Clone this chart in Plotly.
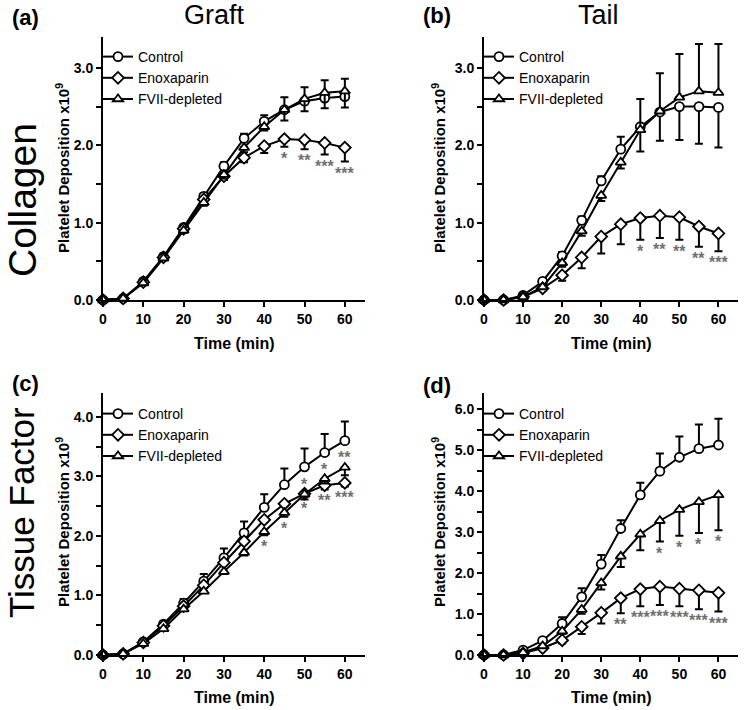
import plotly.graph_objects as go

W, H = 749, 710
FONT = "Liberation Sans, Arial, sans-serif"

# ---------------- data ----------------
TIME = [0, 5, 10, 15, 20, 25, 30, 35, 40, 45, 50, 55, 60]
SERIES = ["Control", "Enoxaparin", "FVII-depleted"]
X_TICKS = [0, 10, 20, 30, 40, 50, 60]

# (a) Graft / Collagen
A_CTRL = [0, 0.02, 0.24, 0.56, 0.94, 1.34, 1.73, 2.09, 2.31, 2.46, 2.57, 2.61, 2.63]
A_CTRL_UP = [0, 0, 0.02, 0.03, 0.03, 0.04, 0.05, 0.06, 0.08, 0.16, 0.18, 0.23, 0.23]
A_CTRL_DN = [0] * 13
A_ENOX = [0, 0.02, 0.23, 0.55, 0.92, 1.30, 1.60, 1.84, 1.99, 2.08, 2.07, 2.03, 1.97]
A_ENOX_UP = [0] * 13
A_ENOX_DN = [0, 0, 0.01, 0.02, 0.03, 0.04, 0.05, 0.06, 0.09, 0.10, 0.12, 0.15, 0.18]
A_FVII = [0, 0.02, 0.22, 0.54, 0.90, 1.26, 1.62, 1.97, 2.24, 2.46, 2.60, 2.68, 2.70]
A_FVII_UP = [0] * 13
A_FVII_DN = [0, 0, 0.01, 0.02, 0.03, 0.04, 0.05, 0.06, 0.05, 0.14, 0.16, 0.20, 0.21]
A_ENOX_SIG = ["", "", "", "", "", "", "", "", "", "*", "**", "***", "***"]

# (b) Tail / Collagen
B_CTRL = [0, 0, 0.06, 0.24, 0.57, 1.03, 1.54, 1.95, 2.24, 2.43, 2.50, 2.50, 2.49]
B_CTRL_UP = [0, 0, 0.02, 0.03, 0.05, 0.05, 0.06, 0.16, 0, 0, 0, 0, 0]
B_CTRL_DN = [0, 0, 0, 0, 0, 0, 0, 0, 0.32, 0.37, 0.43, 0.48, 0.52]
B_ENOX = [0, 0, 0.04, 0.15, 0.32, 0.55, 0.82, 0.98, 1.06, 1.09, 1.07, 0.95, 0.86]
B_ENOX_UP = [0] * 13
B_ENOX_DN = [0, 0, 0.01, 0.03, 0.07, 0.14, 0.22, 0.26, 0.28, 0.29, 0.29, 0.26, 0.23]
B_FVII = [0, 0, 0.04, 0.17, 0.48, 0.89, 1.35, 1.78, 2.20, 2.44, 2.62, 2.70, 2.68]
B_FVII_UP = [0, 0, 0, 0, 0, 0, 0, 0, 0.40, 0.49, 0.56, 0.61, 0.63]
B_FVII_DN = [0, 0, 0.02, 0.03, 0.05, 0.06, 0.07, 0.08, 0, 0, 0, 0, 0]
B_ENOX_SIG = ["", "", "", "", "", "", "", "", "*", "**", "**", "**", "***"]

# (c) Graft / Tissue Factor
C_CTRL = [0, 0.02, 0.22, 0.52, 0.87, 1.24, 1.63, 2.05, 2.48, 2.86, 3.16, 3.40, 3.60]
C_CTRL_UP = [0, 0, 0.02, 0.04, 0.07, 0.12, 0.16, 0.19, 0.22, 0.27, 0.31, 0.31, 0.32]
C_CTRL_DN = [0] * 13
C_ENOX = [0, 0.02, 0.21, 0.49, 0.82, 1.17, 1.55, 1.91, 2.27, 2.54, 2.71, 2.85, 2.89]
C_ENOX_UP = [0] * 13
C_ENOX_DN = [0, 0, 0.01, 0.02, 0.02, 0.03, 0.03, 0.04, 0.04, 0.04, 0.05, 0.07, 0.06]
C_FVII = [0, 0.02, 0.19, 0.44, 0.77, 1.07, 1.40, 1.72, 2.07, 2.39, 2.70, 2.96, 3.15]
C_FVII_UP = [0] * 13
C_FVII_DN = [0, 0, 0.01, 0.02, 0.03, 0.03, 0.04, 0.05, 0.06, 0.07, 0.09, 0.08, 0.13]
C_FVII_SIG_BELOW = ["", "", "", "", "", "", "", "", "*", "*", "", "", ""]
C_FVII_SIG_ABOVE = ["", "", "", "", "", "", "", "", "", "", "*", "*", "**"]
C_ENOX_SIG = ["", "", "", "", "", "", "", "", "", "", "*", "**", "***"]

# (d) Tail / Tissue Factor
D_CTRL = [0, 0, 0.12, 0.35, 0.77, 1.42, 2.22, 3.09, 3.91, 4.49, 4.83, 5.04, 5.13]
D_CTRL_UP = [0, 0, 0.03, 0.06, 0.15, 0.21, 0.22, 0.20, 0.30, 0.43, 0.51, 0.59, 0.64]
D_CTRL_DN = [0] * 13
D_ENOX = [0, 0, 0.04, 0.17, 0.36, 0.69, 1.03, 1.39, 1.61, 1.67, 1.62, 1.58, 1.52]
D_ENOX_UP = [0] * 13
D_ENOX_DN = [0, 0, 0.01, 0.04, 0.08, 0.18, 0.26, 0.37, 0.42, 0.45, 0.43, 0.46, 0.46]
D_FVII = [0, 0, 0.06, 0.22, 0.58, 1.11, 1.76, 2.41, 2.95, 3.28, 3.55, 3.74, 3.91]
D_FVII_UP = [0] * 13
D_FVII_DN = [0, 0, 0.01, 0.03, 0.06, 0.10, 0.16, 0.26, 0.39, 0.51, 0.64, 0.76, 0.86]
D_FVII_SIG = ["", "", "", "", "", "", "", "", "", "*", "*", "*", "*"]
D_ENOX_SIG = ["", "", "", "", "", "", "", "**", "***", "***", "***", "***", "***"]

Y_MAX = {"a": 3.4, "b": 3.4, "c": 4.4, "d": 6.4}

# ---------------- helpers ----------------
def px(x):
    return x / W


def py(y):
    return 1 - y / H


SYMBOLS = {"Control": "circle", "Enoxaparin": "diamond", "FVII-depleted": "triangle-up"}

fig = go.Figure()

panels = [
    dict(k="a", xr="x", yr="y", lg="legend",
         data=[(A_CTRL, A_CTRL_UP, A_CTRL_DN), (A_ENOX, A_ENOX_UP, A_ENOX_DN), (A_FVII, A_FVII_UP, A_FVII_DN)]),
    dict(k="b", xr="x2", yr="y2", lg="legend2",
         data=[(B_CTRL, B_CTRL_UP, B_CTRL_DN), (B_ENOX, B_ENOX_UP, B_ENOX_DN), (B_FVII, B_FVII_UP, B_FVII_DN)]),
    dict(k="c", xr="x3", yr="y3", lg="legend3",
         data=[(C_CTRL, C_CTRL_UP, C_CTRL_DN), (C_ENOX, C_ENOX_UP, C_ENOX_DN), (C_FVII, C_FVII_UP, C_FVII_DN)]),
    dict(k="d", xr="x4", yr="y4", lg="legend4",
         data=[(D_CTRL, D_CTRL_UP, D_CTRL_DN), (D_ENOX, D_ENOX_UP, D_ENOX_DN), (D_FVII, D_FVII_UP, D_FVII_DN)]),
]

for p in panels:
    for name, (vals, up, dn) in zip(SERIES, p["data"]):
        fig.add_trace(go.Scatter(
            x=TIME, y=vals, name=name, mode="lines+markers",
            xaxis=p["xr"], yaxis=p["yr"], legend=p["lg"],
            line=dict(color="black", width=2),
            marker=dict(symbol=SYMBOLS[name], size=9, color="white",
                        line=dict(color="black", width=1.8)),
            error_y=dict(type="data", symmetric=False, array=up, arrayminus=dn,
                         color="black", thickness=2, width=4),
            cliponaxis=False,
        ))

SIG_FONT = dict(family=FONT, size=16, color="#707070", weight="bold")


def add_sig(xr, yr, vals, up, dn, labels, above=False):
    for t, v, u, d, lab in zip(TIME, vals, up, dn, labels):
        if not lab:
            continue
        if above:
            fig.add_annotation(x=t, y=v + u, xref=xr, yref=yr, text=lab, showarrow=False,
                               yanchor="bottom", yshift=-1, font=SIG_FONT)
        else:
            fig.add_annotation(x=t, y=v - d, xref=xr, yref=yr, text=lab, showarrow=False,
                               yanchor="top", yshift=-1, font=SIG_FONT)


add_sig("x", "y", A_ENOX, A_ENOX_UP, A_ENOX_DN, A_ENOX_SIG)
add_sig("x2", "y2", B_ENOX, B_ENOX_UP, B_ENOX_DN, B_ENOX_SIG)
add_sig("x3", "y3", C_FVII, C_FVII_UP, C_FVII_DN, C_FVII_SIG_BELOW)
add_sig("x3", "y3", C_FVII, C_FVII_UP, C_FVII_DN, C_FVII_SIG_ABOVE, above=True)
add_sig("x3", "y3", C_ENOX, C_ENOX_UP, C_ENOX_DN, C_ENOX_SIG)
add_sig("x4", "y4", D_FVII, D_FVII_UP, D_FVII_DN, D_FVII_SIG)
add_sig("x4", "y4", D_ENOX, D_ENOX_UP, D_ENOX_DN, D_ENOX_SIG)

# ---------------- axes ----------------
XDOM = {"L": [px(103), px(365)], "R": [px(484), px(738)]}
YDOM = {"T": [py(300), py(37)], "B": [py(655), py(393)]}
layout_pos = {"a": ("L", "T"), "b": ("R", "T"), "c": ("L", "B"), "d": ("R", "B")}

TICKFONT = dict(family=FONT, size=14, color="black", weight="bold")
axes = {}
for i, p in enumerate(panels):
    sfx = "" if i == 0 else str(i + 1)
    xd, yd = layout_pos[p["k"]]
    axes["xaxis" + sfx] = dict(
        domain=XDOM[xd], anchor="y" + sfx, range=[0, 65], tickvals=X_TICKS,
        ticks="outside", ticklen=5, tickwidth=2, tickcolor="black",
        showline=True, linewidth=2, linecolor="black", showgrid=False, zeroline=False,
        tickfont=TICKFONT, automargin=False, fixedrange=True,
    )
    axes["yaxis" + sfx] = dict(
        domain=YDOM[yd], anchor="x" + sfx, range=[0, Y_MAX[p["k"]]], tick0=0, dtick=1,
        tickformat=".1f", ticks="outside", ticklen=5, tickwidth=2, tickcolor="black",
        minor=dict(dtick=0.5, ticks="outside", ticklen=5, tickwidth=2, tickcolor="black", showgrid=False),
        showline=True, linewidth=2, linecolor="black", showgrid=False, zeroline=False,
        tickfont=TICKFONT, automargin=False, fixedrange=True,
    )

LEG_FONT = dict(family=FONT, size=14, color="black")
legends = {}
leg_pos = {"legend": (98, 41), "legend2": (479, 41), "legend3": (98, 398), "legend4": (479, 398)}
for lg, (lx, ly) in leg_pos.items():
    legends[lg] = dict(x=px(lx), y=py(ly), xanchor="left", yanchor="top",
                       bgcolor="rgba(0,0,0,0)", font=LEG_FONT, borderwidth=0)

fig.update_layout(
    width=W, height=H, margin=dict(l=0, r=0, t=0, b=0),
    paper_bgcolor="white", plot_bgcolor="white",
    font=dict(family=FONT, color="black"),
    **axes, **legends,
)

# ---------------- text labels ----------------
def label(x, y, text, size, bold=False, angle=0):
    fig.add_annotation(x=px(x), y=py(y), xref="paper", yref="paper", text=text,
                       showarrow=False, textangle=angle, xanchor="center", yanchor="middle",
                       font=dict(family=FONT, size=size, color="black",
                                 weight="bold" if bold else "normal"))


label(214, 15, "Graft", 27)
label(598, 15, "Tail", 27)
label(25, 18, "(a)", 22, bold=True)
label(437, 16, "(b)", 22, bold=True)
label(25, 384, "(c)", 22, bold=True)
label(437, 385, "(d)", 22, bold=True)
label(22, 200, "Collagen", 39, angle=-90)
label(21, 513, "Tissue Factor", 35, angle=-90)

YTITLE = "Platelet Deposition x10<sup>9</sup>"
label(62, 168, YTITLE, 15, bold=True, angle=-90)
label(438, 168, YTITLE, 15, bold=True, angle=-90)
label(62, 522, YTITLE, 15, bold=True, angle=-90)
label(438, 522, YTITLE, 15, bold=True, angle=-90)

label(234, 343, "Time (min)", 16, bold=True)
label(611, 343, "Time (min)", 16, bold=True)
label(234, 697, "Time (min)", 16, bold=True)
label(611, 697, "Time (min)", 16, bold=True)

fig.write_html("out.html", config={"displayModeBar": False, "staticPlot": True},
               post_script="document.body.style.margin='0px';")
